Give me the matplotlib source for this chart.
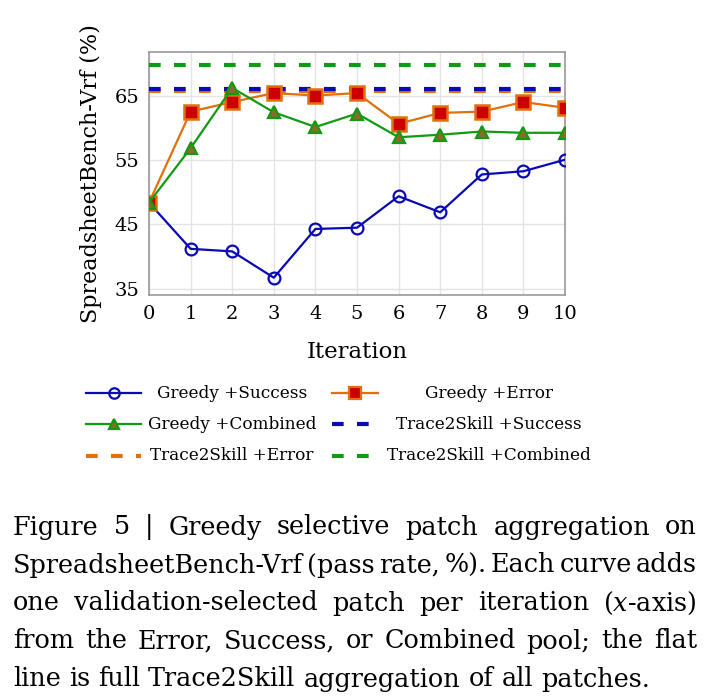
import numpy as np
import matplotlib.pyplot as plt
from matplotlib.lines import Line2D

# =========================
# DATA
# =========================
iterations = list(range(11))
greedy_success = [48.4, 41.2, 40.8, 36.7, 44.3, 44.5, 49.4, 46.9, 52.8, 53.3, 55.1]
greedy_error = [48.4, 62.6, 64.1, 65.5, 65.1, 65.5, 60.7, 62.4, 62.6, 64.1, 63.2]
greedy_combined = [48.4, 56.9, 66.3, 62.5, 60.2, 62.3, 58.6, 59.0, 59.5, 59.3, 59.3]
t2s_success = 66.1
t2s_error = 65.8
t2s_combined = 69.8

ytick_vals = [35, 45, 55, 65]

caption_lines = [
    "Figure 5 | Greedy selective patch aggregation on",
    "SpreadsheetBench-Vrf (pass rate, %). Each curve adds",
    "one validation-selected patch per iteration ($x$-axis)",
    "from the Error, Success, or Combined pool; the flat",
    "line is full Trace2Skill aggregation of all patches.",
]

BLUE = "#0a0ab4"
ORANGE = "#e0700a"
RED = "#cc0000"
GREEN = "#139a13"
OLIVE = "#8c6a2c"

plt.rcParams["font.family"] = "DejaVu Serif"
plt.rcParams["mathtext.fontset"] = "dejavuserif"

W, H = 711, 700
fig = plt.figure(figsize=(W / 100, H / 100), dpi=100)


def fx(px):
    return px / W


def fy(py):
    return 1 - py / H


ax = fig.add_axes([fx(149), fy(295), fx(565) - fx(149), fy(52) - fy(295)])

# =========================
# CURVES
# =========================
ax.plot(iterations, greedy_success, color=BLUE, lw=1.6, marker="o", ms=8.5,
        mfc="none", mec=BLUE, mew=1.6, zorder=4)
ax.plot(iterations, greedy_error, color=ORANGE, lw=1.6, marker="s", ms=9.5,
        mfc=RED, mec=ORANGE, mew=1.8, zorder=4)
ax.plot(iterations, greedy_combined, color=GREEN, lw=1.6, marker="^", ms=8.5,
        mfc=OLIVE, mec=GREEN, mew=1.6, zorder=5)

dash = (0, (2.8, 3.2))
ax.axhline(t2s_error, color=ORANGE, lw=3, ls=dash, zorder=3)
ax.axhline(t2s_success, color=BLUE, lw=3, ls=dash, zorder=3)
ax.axhline(t2s_combined, color=GREEN, lw=3, ls=dash, zorder=3)

ax.set_xlim(0, 10)
ax.set_ylim(34, 71.9)
ax.set_xticks(iterations)
ax.set_yticks(ytick_vals)
ax.tick_params(length=0, labelsize=14, pad=7)
ax.grid(True, color="#e4e4e4", lw=1)
ax.set_axisbelow(True)
for s in ax.spines.values():
    s.set_color("#9a9a9a")
    s.set_linewidth(1.2)

ax.set_xlabel("Iteration", fontsize=16.5, labelpad=13)
ax.set_ylabel("SpreadsheetBench-Vrf (%)", fontsize=16, labelpad=9)

# =========================
# LEGEND (2 columns, centered text)
# =========================
legend_rows = [
    [dict(label="Greedy +Success", color=BLUE, ls="-", marker="o", mfc="none", mec=BLUE, ms=7.5),
     dict(label="Greedy +Error", color=ORANGE, ls="-", marker="s", mfc=RED, mec=ORANGE, ms=8.5)],
    [dict(label="Greedy +Combined", color=GREEN, ls="-", marker="^", mfc=OLIVE, mec=GREEN, ms=7.5),
     dict(label="Trace2Skill +Success", color=BLUE, ls=dash, marker=None)],
    [dict(label="Trace2Skill +Error", color=ORANGE, ls=dash, marker=None),
     dict(label="Trace2Skill +Combined", color=GREEN, ls=dash, marker=None)],
]
row_y = [393, 424, 456]
handle_x = [(86, 141), (332, 378)]
text_cx = [232, 489]
for r, row in enumerate(legend_rows):
    for c, item in enumerate(row):
        x0, x1 = handle_x[c]
        y = fy(row_y[r])
        dashed = item["marker"] is None
        fig.add_artist(Line2D([fx(x0), fx(x1)], [y, y], color=item["color"],
                              ls=item["ls"], lw=3 if dashed else 1.6,
                              transform=fig.transFigure))
        if not dashed:
            fig.add_artist(Line2D([fx((x0 + x1) / 2)], [y], marker=item["marker"],
                                  ms=item["ms"], mfc=item["mfc"], mec=item["mec"],
                                  mew=1.6, ls="none", transform=fig.transFigure))
        fig.text(fx(text_cx[c]), y, item["label"], fontsize=12.2,
                 ha="center", va="center")

# =========================
# CAPTION (justified)
# =========================
renderer = fig.canvas.get_renderer()
cap_left, cap_right = 13, 697
cap_y = [527, 565, 603, 641, 679]
cap_size = 18.4

probe = fig.text(0, 0, "a a", fontsize=cap_size)
pa = fig.text(0, 0, "aa", fontsize=cap_size)
space_w = probe.get_window_extent(renderer).width - pa.get_window_extent(renderer).width
probe.remove()
pa.remove()

for i, line in enumerate(caption_lines):
    words = line.split(" ")
    texts = [fig.text(0, fy(cap_y[i]), w, fontsize=cap_size, va="center", ha="left")
             for w in words]
    widths = [t.get_window_extent(renderer).width for t in texts]
    if i < len(caption_lines) - 1:
        gap = (cap_right - cap_left - sum(widths)) / (len(words) - 1)
    else:
        gap = space_w
    x = cap_left
    for t, w in zip(texts, widths):
        t.set_x(fx(x))
        x += w + gap

fig.savefig("out.png", dpi=100)
